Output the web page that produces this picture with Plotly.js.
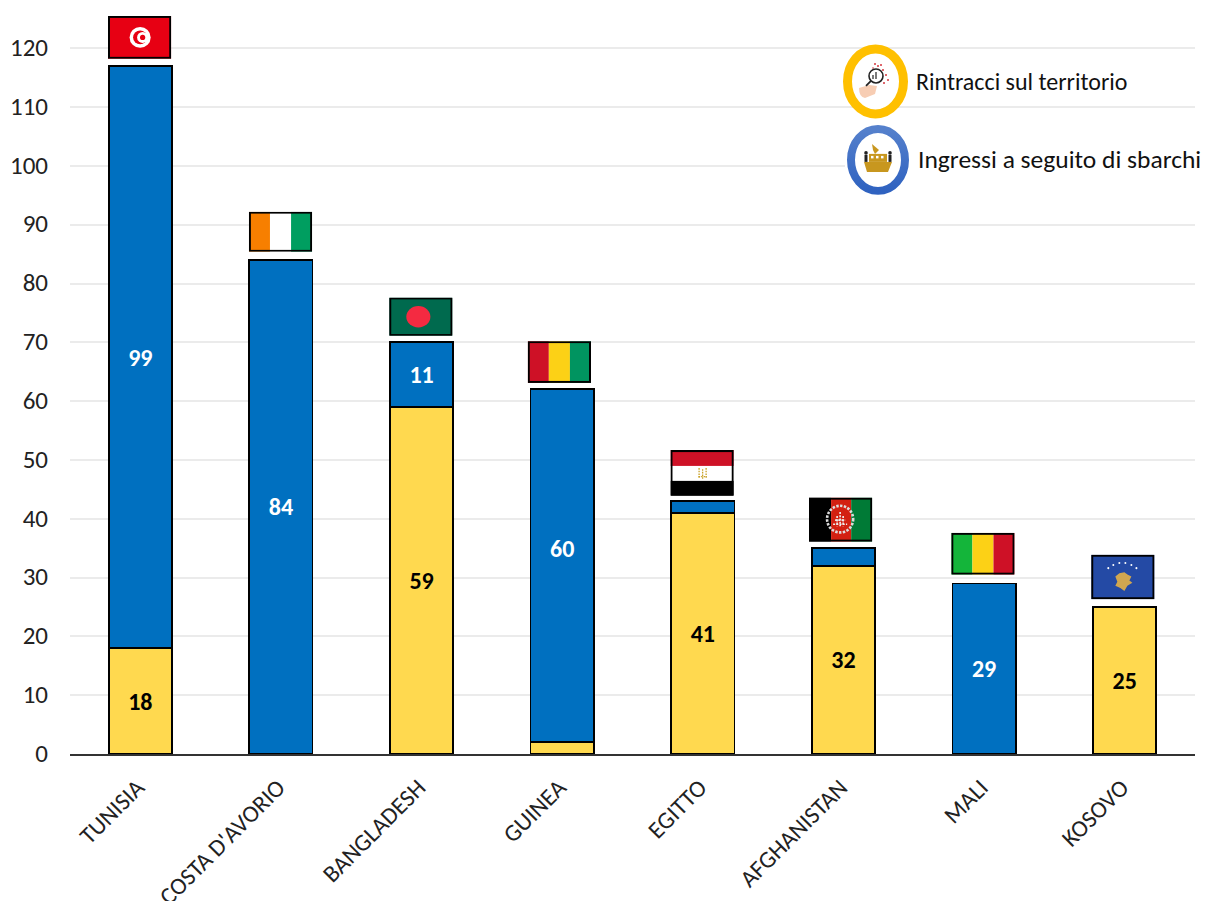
<!DOCTYPE html>
<html><head><meta charset="utf-8">
<script src="https://cdn.plot.ly/plotly-3.0.1.min.js"></script>
<style>html,body{margin:0;padding:0;background:#fff}#c{width:1205px;height:901px}</style>
</head><body><div id="c"></div>
<script>
const categories = ["TUNISIA","COSTA D'AVORIO","BANGLADESH","GUINEA","EGITTO","AFGHANISTAN","MALI","KOSOVO"];
const rintracci = [18,null,59,2,41,32,null,25];
const sbarchi = [99,84,11,60,2,3,29,null];
const rintracciLabels = ["18","","59","","41","32","","25"];
const sbarchiLabels = ["99","84","11","","","","29",""];
const guineaLabel = "60";
const guineaLabelAt = 34.9;
const flagBase = [118.2,85.4,71.1,63.1,43.9,36.1,30.5,26.3];
const flagHeight = [7.3,6.8,6.5,7.1,7.8,7.5,7.1,7.6];
const flagShift = [-0.005,-0.003,-0.005,-0.02,-0.005,-0.02,-0.008,-0.013];

const W=1205,H=901,L=70,R=1195,B=754.5,unit=5.885;
const FONT='Carlito, Calibri, Lato, sans-serif';
const wrap=(b)=>`<svg xmlns="http://www.w3.org/2000/svg" width="126" height="86" viewBox="0 0 63 43" preserveAspectRatio="none">${b}<rect x="1" y="1" width="61" height="41" fill="none" stroke="#000" stroke-width="2"/></svg>`;
const tri=(c)=>`<rect width="21" height="43" fill="${c[0]}"/><rect x="21" width="21" height="43" fill="${c[1]}"/><rect x="42" width="21" height="43" fill="${c[2]}"/>`;
const flags=[
 `<rect width="63" height="43" fill="#E70013"/><circle cx="32" cy="21.5" r="10.5" fill="#fff"/><circle cx="32" cy="21.5" r="7" fill="#E70013"/><circle cx="34.5" cy="21.5" r="5.5" fill="#fff"/><circle cx="34.5" cy="21.5" r="2.6" fill="#E70013"/>`,
 tri(["#F77F00","#fff","#009E60"]),
 `<rect width="63" height="43" fill="#006A4E"/><circle cx="29" cy="21.5" r="12" fill="#F42A41"/>`,
 tri(["#CE1126","#FCD116","#009460"]),
 `<rect width="63" height="15" fill="#CE1126"/><rect y="15" width="63" height="14" fill="#fff"/><rect y="29" width="63" height="14" fill="#000"/><g stroke="#C9A227" stroke-width="1.3" stroke-dasharray="1.5 1" fill="none"><path d="M28.5 17 V27"/><path d="M35.5 17 V27"/><path d="M32 18 V27"/><path d="M28 25 H36"/></g>`,
 `<rect width="22" height="43" fill="#000"/><rect x="22" width="20" height="43" fill="#D32011"/><rect x="42" width="21" height="43" fill="#007A36"/><circle cx="31" cy="21" r="13" fill="none" stroke="#ddd" stroke-width="2.6" stroke-dasharray="2.4 1.4"/><g stroke="#eee" stroke-width="1.6" stroke-dasharray="2 1.2"><path d="M24 26 H38"/><path d="M26 22 H36"/><path d="M28 18 V28"/><path d="M34 18 V28"/><path d="M31 14 V28"/></g>`,
 tri(["#14B53A","#FCD116","#CE1126"]),
 `<rect width="63" height="43" fill="#244AA5"/><path d="M24 21 L28 18 L33 17 L36 19 L40 21 L38 25 L41 27 L36 30 L33 35 L29 32 L24 30 L26 26 Z" fill="#D0A650"/><g fill="#fff"><circle cx="17" cy="13" r="1"/><circle cx="22" cy="10" r="1"/><circle cx="28" cy="8" r="1"/><circle cx="34" cy="8" r="1"/><circle cx="40" cy="10" r="1"/><circle cx="45" cy="13" r="1"/></g>`
];
const uri=(s)=>'data:image/svg+xml;charset=utf-8,'+encodeURIComponent(s);
const images=flags.map((f,i)=>({source:uri(wrap(f)),xref:'x',yref:'y',x:i+flagShift[i],y:flagBase[i],sizex:0.45,sizey:flagHeight[i],sizing:'stretch',xanchor:'center',yanchor:'bottom',layer:'above'}));
const paperX=(x)=>(x-L)/(R-L);
const paperY=(y)=>(B-y)/B;
const lensIcon=`<svg xmlns="http://www.w3.org/2000/svg" width="144" height="160" viewBox="0 0 72 80" preserveAspectRatio="none"><ellipse cx="35.5" cy="39.5" rx="28" ry="32.5" fill="#fff" stroke="#FFC000" stroke-width="9"/><g transform="translate(15 19)"><g fill="#d3343c"><circle cx="20" cy="3" r="1"/><circle cx="23" cy="5" r="1"/><circle cx="26" cy="4" r="1"/><circle cx="28" cy="9" r="1"/><circle cx="31" cy="14" r="1"/><circle cx="33" cy="19" r="1"/><circle cx="29" cy="22" r="1"/><circle cx="18" cy="7" r=".8"/></g><path d="M4 27 L14 24 L22 25 L20 33 L10 37 Q4 36 4 27Z" fill="#f7cdb3"/><circle cx="21" cy="15" r="7" fill="#fff" stroke="#222" stroke-width="1.6"/><path d="M16 20 L11 25" stroke="#222" stroke-width="1.8"/><path d="M21 11 V18 M18 14 V18" stroke="#222" stroke-width="1.2"/></g></svg>`;
const shipIcon=`<svg xmlns="http://www.w3.org/2000/svg" width="720" height="152" viewBox="0 0 360 76" preserveAspectRatio="none"><defs><linearGradient id="g" x1="0" y1="0" x2="0" y2="1"><stop offset="0" stop-color="#5580CC"/><stop offset="1" stop-color="#2F62C0"/></linearGradient></defs><rect width="360" height="76" fill="#fff"/><ellipse cx="33" cy="38" rx="27" ry="31" fill="#fff" stroke="url(#g)" stroke-width="8"/><g transform="translate(13 16)"><path d="M6 24 H34 L30 34 H9 Z" fill="#C8971F"/><rect x="11" y="16" width="18" height="8" fill="#C8971F"/><g fill="#fff"><rect x="13" y="18" width="2.5" height="2.5"/><rect x="18" y="18" width="2.5" height="2.5"/><rect x="23" y="18" width="2.5" height="2.5"/></g><path d="M14 6 L21 12 L17 16 L15 12 Z" fill="#C8971F"/><g fill="#222"><circle cx="8" cy="15" r="1.8"/><rect x="6.5" y="17" width="3" height="7"/><circle cx="32" cy="15" r="1.8"/><rect x="30.5" y="17" width="3" height="7"/></g></g></svg>`;
images.push({source:uri(lensIcon),xref:'paper',yref:'paper',x:paperX(840),y:paperY(42),sizex:72/(R-L),sizey:80/B,sizing:'stretch',xanchor:'left',yanchor:'top',layer:'above'});
images.push({source:uri(shipIcon),xref:'paper',yref:'paper',x:paperX(845),y:paperY(122),sizex:360/(R-L),sizey:76/B,sizing:'stretch',xanchor:'left',yanchor:'top',layer:'above'});
const note=(t,x,y,s)=>({text:t,xref:'paper',yref:'paper',x:paperX(x),y:paperY(y),xanchor:'left',yanchor:'middle',showarrow:false,font:{family:FONT,size:s,color:'#111'}});
const mk=(name,y,color,text,tc)=>({type:'bar',name,x:categories,y,text,textposition:'inside',insidetextanchor:'middle',textangle:0,constraintext:'none',cliponaxis:false,
  textfont:{family:FONT,size:24,color:tc,weight:700},marker:{color,line:{color:'#000',width:1.8}},hoverinfo:'x+y'});
Plotly.newPlot('c',[
 mk('Rintracci sul territorio',rintracci,'#FFD94F',rintracciLabels,'#000'),
 mk('Ingressi a seguito di sbarchi',sbarchi,'#0070C0',sbarchiLabels,'#fff')
],{
 width:W,height:H,barmode:'stack',bargap:0.55,showlegend:false,paper_bgcolor:'#fff',plot_bgcolor:'#fff',
 margin:{l:L,r:W-R,t:0,b:H-B,pad:0},
 font:{family:FONT,color:'#222'},
 xaxis:{type:'category',tickangle:-45,tickfont:{family:FONT,size:24,color:'#222'},ticks:'',showline:true,linecolor:'#333',linewidth:2,showgrid:false,automargin:false,ticklabelstandoff:8,ticklabelshift:-3},
 yaxis:{range:[0,B/unit],dtick:10,tick0:0,tickfont:{family:FONT,size:25,color:'#222'},ticks:'',showline:false,showgrid:true,gridcolor:'#ebebeb',gridwidth:2,zeroline:false,automargin:false,ticklabelstandoff:21,ticklabelshift:-1},
 images,
 annotations:[note('Rintracci sul territorio',914,82,24),note('Ingressi a seguito di sbarchi',916,160,25.5),
  {text:guineaLabel,xref:'x',yref:'y',x:3,y:guineaLabelAt,showarrow:false,font:{family:FONT,size:24,color:'#fff',weight:700}}]
},{staticPlot:true,displayModeBar:false});
</script></body></html>
